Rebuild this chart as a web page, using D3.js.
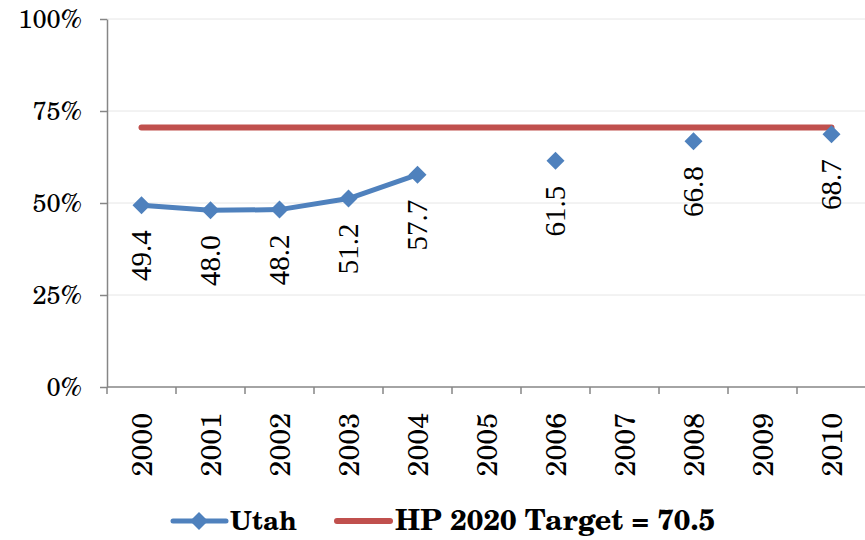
<!DOCTYPE html>
<html><head><meta charset="utf-8">
<script src="https://cdn.jsdelivr.net/npm/d3@7"></script>
<style>body{margin:0;background:#fff}svg{display:block}</style>
</head><body>
<svg id="c" width="865" height="540"></svg>
<script>
const years = ["2000","2001","2002","2003","2004","2005","2006","2007","2008","2009","2010"];
const utah = [49.4, 48.0, 48.2, 51.2, 57.7, null, 61.5, null, 66.8, null, 68.7];
const target = 70.5;
const yTicks = [0, 25, 50, 75, 100];
const seriesNames = ["Utah", "HP 2020 Target = 70.5"];
const colors = ["#4F81BD", "#C0504D"];

(function () {
const AX_FONT = "TeX Gyre Schola, DejaVu Serif, serif";
const DL_FONT = "Liberation Serif, Times New Roman, serif";
const svg = d3.select("#c");
const mLeft = 107, mRight = 866, mTop = 19, mBottom = 387;
const x = d3.scaleBand().domain(years).range([mLeft, mRight]).padding(0);
const y = d3.scaleLinear().domain([0, 100]).range([mBottom, mTop]);
const cx = d => x(d) + x.bandwidth() / 2;

// gridlines
svg.append("g").selectAll("line").data(yTicks.filter(t => t > 0)).join("line")
  .attr("x1", mLeft).attr("x2", 865).attr("y1", d => y(d)).attr("y2", d => y(d))
  .attr("stroke", "#E6E6E6").attr("stroke-width", 1);

// y axis
const yAxis = d3.axisLeft(y).tickValues(yTicks).tickFormat(d => d + "%").tickSize(7).tickSizeOuter(0);
const gy = svg.append("g").attr("transform", `translate(${mLeft},0)`).call(yAxis)
  .attr("font-family", AX_FONT).attr("font-size", 25.5);
gy.select(".domain").attr("stroke", "#868686").attr("stroke-width", 1.5);
gy.selectAll(".tick line").attr("stroke", "#868686").attr("stroke-width", 1.5);
gy.selectAll(".tick text").attr("x", -25).attr("fill", "#000")
  .attr("font-family", AX_FONT).attr("font-size", 25.5);

// x axis
const gx = svg.append("g").attr("transform", `translate(0,${mBottom})`);
gx.append("line").attr("x1", mLeft).attr("x2", 865).attr("y1", 0).attr("y2", 0)
  .attr("stroke", "#868686").attr("stroke-width", 1.5);
gx.selectAll("line.tk").data(years.map(d => x(d)).concat([x(years[years.length-1]) + x.bandwidth()]))
  .join("line").attr("class", "tk")
  .attr("x1", d => d).attr("x2", d => d).attr("y1", 0).attr("y2", 7)
  .attr("stroke", "#868686").attr("stroke-width", 1.5);
gx.selectAll("text").data(years).join("text")
  .attr("transform", d => `translate(${cx(d)},26) rotate(-90)`)
  .attr("text-anchor", "end").attr("dy", "0.36em")
  .attr("font-family", AX_FONT).attr("font-size", 28.5).attr("fill", "#000")
  .text(d => d);

// target line
svg.append("line")
  .attr("x1", cx(years[0])).attr("x2", cx(years[years.length - 1]))
  .attr("y1", y(target)).attr("y2", y(target))
  .attr("stroke", colors[1]).attr("stroke-width", 6).attr("stroke-linecap", "round");

// utah line with gaps
const pts = years.map((d, i) => ({year: d, v: utah[i]}));
const line = d3.line().defined(d => d.v != null).x(d => cx(d.year)).y(d => y(d.v));
svg.append("path").datum(pts).attr("d", line)
  .attr("fill", "none").attr("stroke", colors[0]).attr("stroke-width", 5)
  .attr("stroke-linejoin", "round").attr("stroke-linecap", "round");

const diamond = (px, py, r) => `M${px},${py - r}L${px + r},${py}L${px},${py + r}L${px - r},${py}Z`;
const valid = pts.filter(d => d.v != null);
svg.append("g").selectAll("path").data(valid).join("path")
  .attr("d", d => diamond(cx(d.year), y(d.v), 9)).attr("fill", colors[0]);

// data labels
svg.append("g").selectAll("text").data(valid).join("text")
  .attr("transform", d => `translate(${cx(d.year)},${y(d.v) + 25}) rotate(-90)`)
  .attr("text-anchor", "end").attr("dy", "0.34em")
  .attr("font-family", DL_FONT).attr("font-size", 29).attr("fill", "#000")
  .text(d => d.v.toFixed(1));

// legend
const lg = svg.append("g");
const ly = 521;
function fitText(sel, w) {
  const len = sel.node().getComputedTextLength();
  const fs = +sel.attr("font-size");
  if (len > 0) sel.attr("font-size", fs * w / len);
}
lg.append("line").attr("x1", 173).attr("x2", 226).attr("y1", ly).attr("y2", ly)
  .attr("stroke", colors[0]).attr("stroke-width", 5).attr("stroke-linecap", "round");
lg.append("path").attr("d", diamond(199, ly, 9)).attr("fill", colors[0]);
const t1 = lg.append("text").attr("x", 230).attr("y", 530)
  .attr("font-family", AX_FONT).attr("font-weight", "bold").attr("font-size", 28)
  .attr("fill", "#000").text(seriesNames[0]);
fitText(t1, 67);
lg.append("line").attr("x1", 337).attr("x2", 390).attr("y1", ly).attr("y2", ly)
  .attr("stroke", colors[1]).attr("stroke-width", 6).attr("stroke-linecap", "round");
const t2 = lg.append("text").attr("x", 395).attr("y", 530)
  .attr("font-family", AX_FONT).attr("font-weight", "bold").attr("font-size", 28)
  .attr("fill", "#000").text(seriesNames[1]);
fitText(t2, 320);
})();
</script>
</body></html>
